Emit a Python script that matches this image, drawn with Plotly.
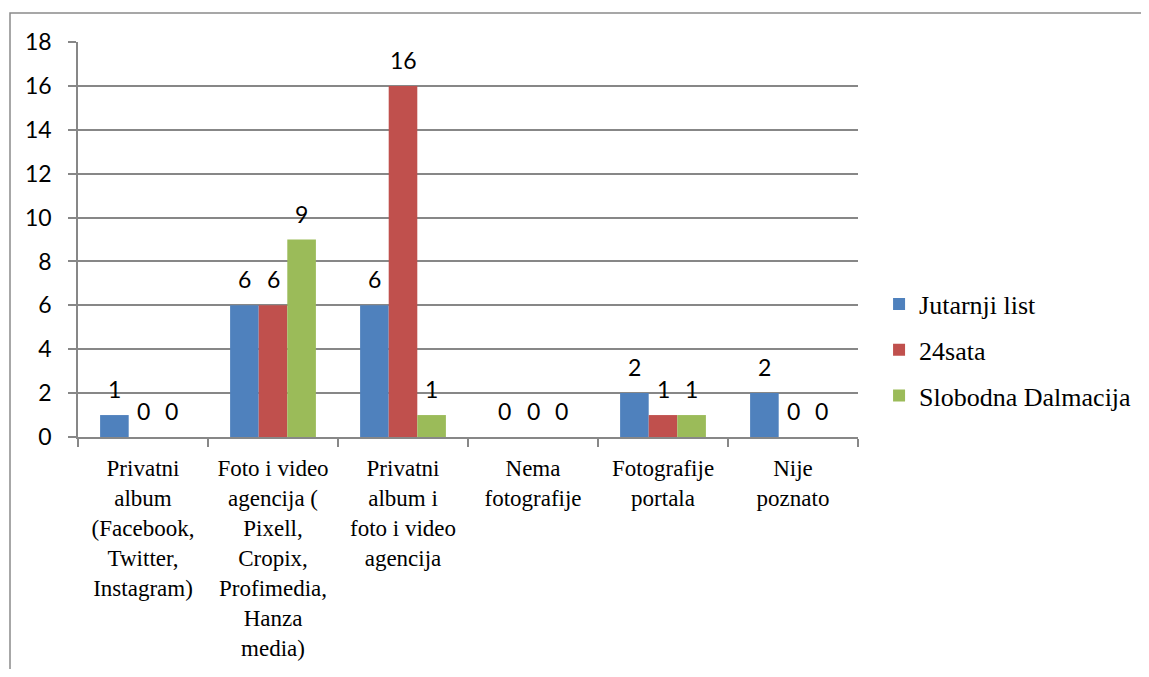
import plotly.graph_objects as go

categories = [
    "Privatni<br>album<br>(Facebook,<br>Twitter,<br>Instagram)",
    "Foto i video<br>agencija (<br>Pixell,<br>Cropix,<br>Profimedia,<br>Hanza<br>media)",
    "Privatni<br>album i<br>foto i video<br>agencija",
    "Nema<br>fotografije",
    "Fotografije<br>portala",
    "Nije<br>poznato",
]
series_names = ["Jutarnji list", "24sata", "Slobodna Dalmacija"]
jutarnji = [1, 6, 6, 0, 2, 2]
sata24 = [0, 6, 16, 0, 1, 0]
slobodna = [0, 9, 1, 0, 1, 0]
series_values = [jutarnji, sata24, slobodna]
colors = ["#4F81BD", "#C0504D", "#9BBB59"]
y_ticks = list(range(0, 19, 2))

# page has an 8px body margin, so the figure starts at (8, 8)
W, H = 1133, 661
ML, MR, MT, MB = 70, 283, 34, 232
BARGAP = 0.34
GRID = "#878787"
SERIF = "Liberation Serif, Tinos, Times New Roman, serif"
SANS = "Lato, Carlito, Calibri, sans-serif"

fig = go.Figure()
for i, (name, vals, col) in enumerate(zip(series_names, series_values, colors)):
    fig.add_trace(go.Bar(
        x=categories, y=vals, name=name, marker_color=col,
        marker_line_width=0, legendgroup=f"g{i}",
    ))

plot_w = W - ML - MR
plot_h = H - MT - MB
bar_px = plot_w / len(categories) * (1 - BARGAP) / len(series_names)
for i, vals in enumerate(series_values):
    for c, v in zip(categories, vals):
        fig.add_annotation(
            x=c, y=v, text=str(v), showarrow=False,
            xshift=(i - (len(series_names) - 1) / 2) * bar_px,
            yshift=10, yanchor="bottom",
            font=dict(family=SANS, size=23, color="#000000"),
        )

fig.add_shape(type="rect", xref="paper", yref="paper",
              x0=(2 - ML) / plot_w, x1=1.6,
              y0=-1.0, y1=(plot_h + MT - 5) / plot_h,
              line=dict(color="#8a8a8a", width=1.5), layer="below")

fig.update_layout(
    width=W, height=H,
    margin=dict(l=ML, r=MR, t=MT, b=MB, pad=0, autoexpand=False),
    paper_bgcolor="white", plot_bgcolor="white",
    barmode="group", bargap=BARGAP, bargroupgap=0,
    showlegend=True,
    legend=dict(
        x=1.027, xanchor="left", y=0.22, yanchor="middle",
        font=dict(family=SERIF, size=26, color="#000000"),
        tracegroupgap=9, traceorder="grouped",
        bgcolor="rgba(0,0,0,0)",
    ),
    xaxis=dict(
        automargin=False,
        showline=True, linecolor=GRID, linewidth=1.5,
        ticks="outside", tickson="boundaries", ticklen=8, tickcolor=GRID, tickwidth=1.5,
        tickfont=dict(family=SERIF, size=23, color="#000000"),
        showgrid=False, ticklabelstandoff=10,
    ),
    yaxis=dict(
        automargin=False,
        range=[0, 18], tickvals=y_ticks,
        showline=True, linecolor=GRID, linewidth=1.5,
        ticks="outside", ticklen=8, tickcolor=GRID, tickwidth=1.5,
        showgrid=True, gridcolor=GRID, gridwidth=1.5,
        zeroline=False,
        tickfont=dict(family=SANS, size=23, color="#000000"),
        ticklabelstandoff=12,
    ),
)

fig.write_html("out.html")
